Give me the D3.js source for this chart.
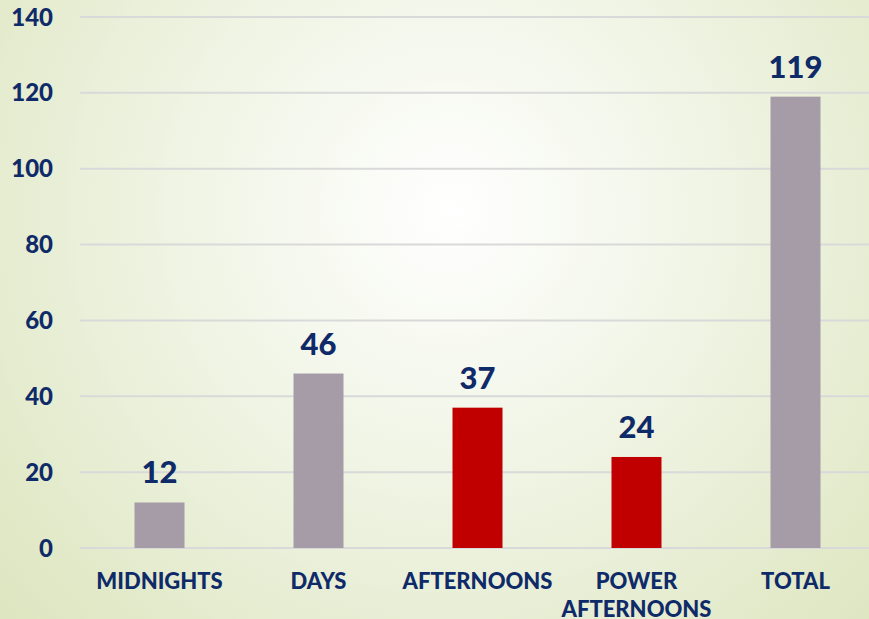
<!DOCTYPE html>
<html>
<head>
<meta charset="utf-8">
<script src="https://cdn.jsdelivr.net/npm/d3@7"></script>
<style>
  html, body { margin: 0; padding: 0; overflow: hidden; }
</style>
</head>
<body>
<div id="chart"></div>
<script>
const categories = [["MIDNIGHTS"], ["DAYS"], ["AFTERNOONS"], ["POWER", "AFTERNOONS"], ["TOTAL"]];
const values = [12, 46, 37, 24, 119];
const highlighted = [false, false, true, true, false];
const yTicks = [0, 20, 40, 60, 80, 100, 120, 140];

const W = 869, H = 619;
const navy = "#0f2a68";
const font = "Lato, 'Open Sans', sans-serif";

const svg = d3.select("#chart")
  .append("svg")
  .attr("width", W)
  .attr("height", H)
  .style("font-family", font);

// soft radial background
const grad = svg.append("defs").append("radialGradient")
  .attr("id", "bg")
  .attr("gradientUnits", "userSpaceOnUse")
  .attr("cx", 450).attr("cy", 210).attr("r", 600);
grad.append("stop").attr("offset", "0%").attr("stop-color", "#ffffff");
grad.append("stop").attr("offset", "50%").attr("stop-color", "#eef3e1");
grad.append("stop").attr("offset", "100%").attr("stop-color", "#dde6c0");

svg.append("rect")
  .attr("width", W)
  .attr("height", H)
  .attr("fill", "url(#bg)");

const x = d3.scaleBand()
  .domain(d3.range(categories.length))
  .range([80, 875])
  .padding(0);

const y = d3.scaleLinear()
  .domain([0, 140])
  .range([548, 17]);

const barW = 50;

// gridlines
svg.append("g")
  .selectAll("line")
  .data(yTicks)
  .join("line")
  .attr("x1", 80)
  .attr("x2", W)
  .attr("y1", d => y(d))
  .attr("y2", d => y(d))
  .attr("stroke", "#d9d9d9")
  .attr("stroke-width", 2);

// y tick labels
svg.append("g")
  .selectAll("text")
  .data(yTicks)
  .join("text")
  .attr("x", 53)
  .attr("y", d => y(d))
  .attr("dy", "0.36em")
  .attr("text-anchor", "end")
  .attr("fill", navy)
  .style("font-size", "24px")
  .style("font-weight", 900)
  .text(d => d);

// bars
svg.append("g")
  .selectAll("rect")
  .data(values)
  .join("rect")
  .attr("x", (d, i) => x(i) + x.bandwidth() / 2 - barW / 2)
  .attr("y", d => y(d))
  .attr("width", barW)
  .attr("height", d => y(0) - y(d))
  .attr("fill", (d, i) => highlighted[i] ? "#c00000" : "#a69ca8");

// value labels
svg.append("g")
  .selectAll("text")
  .data(values)
  .join("text")
  .attr("x", (d, i) => x(i) + x.bandwidth() / 2)
  .attr("y", d => y(d) - 19)
  .attr("text-anchor", "middle")
  .attr("fill", navy)
  .style("font-size", "31px")
  .style("font-weight", 900)
  .text(d => d);

// category labels
const cat = svg.append("g")
  .selectAll("text")
  .data(categories)
  .join("text")
  .attr("x", (d, i) => x(i) + x.bandwidth() / 2)
  .attr("y", 589)
  .attr("text-anchor", "middle")
  .attr("fill", navy)
  .style("font-size", "22px")
  .style("font-weight", 900);

cat.selectAll("tspan")
  .data(d => d)
  .join("tspan")
  .attr("x", function () { return d3.select(this.parentNode).attr("x"); })
  .attr("dy", (d, i) => i === 0 ? 0 : 28)
  .text(d => d);
</script>
</body>
</html>
